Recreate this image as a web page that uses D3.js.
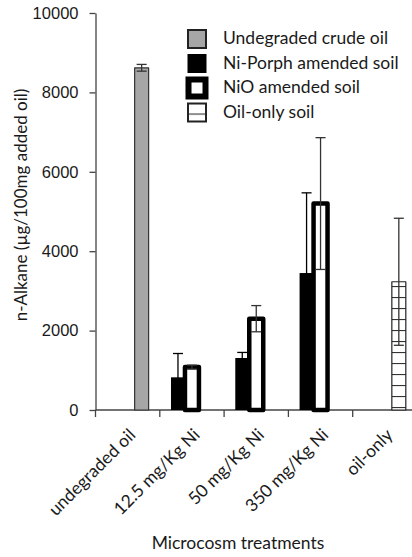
<!DOCTYPE html>
<html>
<head>
<meta charset="utf-8">
<script src="https://cdnjs.cloudflare.com/ajax/libs/d3/7.8.5/d3.min.js"></script>
<style>
  body { margin: 0; background: #fff; }
  svg { display: block; }
</style>
</head>
<body>
<div id="chart"></div>
<script>
// values
var categories = ["undegraded oil", "12.5 mg/Kg Ni", "50 mg/Kg Ni", "350 mg/Kg Ni", "oil-only"];
var crudeOil = [8620, null, null, null, null];
var crudeOilErr = [85, null, null, null, null];
var niPorph = [null, 823, 1310, 3450, null];
var niPorphErr = [null, 600, 140, 2020, null];
var nio = [null, 1080, 2300, 5200, null];
var nioErr = [null, 50, 330, 1660, null];
var oilOnly = [null, null, null, null, 3230];
var oilOnlyErr = [null, null, null, null, 1600];
var yTicks = [0, 2000, 4000, 6000, 8000, 10000];
var legendLabels = ["Undegraded crude oil", "Ni-Porph amended soil", "NiO amended soil", "Oil-only soil"];

var width = 412, height = 557;
var margin = { top: 13, left: 95.5, bottom: 147, right: -5 };
var textFont = "Lato, 'Open Sans', sans-serif";
var numFont = "'Liberation Sans', Arial, sans-serif";

var svg = d3.select("#chart").append("svg")
    .attr("width", width)
    .attr("height", height);

var defs = svg.append("defs");
var hatch = defs.append("pattern")
    .attr("id", "hlines")
    .attr("patternUnits", "userSpaceOnUse")
    .attr("width", 20)
    .attr("height", 11);
hatch.append("rect").attr("width", 20).attr("height", 11).attr("fill", "#fff");
hatch.append("line")
    .attr("x1", 0).attr("x2", 20).attr("y1", 0.5).attr("y2", 0.5)
    .attr("stroke", "#333").attr("stroke-width", 1.2);

var x0 = d3.scaleBand()
    .domain(categories)
    .range([margin.left, width - margin.right]);

// three slots per group: Ni-Porph, NiO, then crude / oil-only
var x1 = d3.scaleBand()
    .domain(["porph", "nio", "other"])
    .range([0, x0.bandwidth()])
    .paddingOuter(0.8);

var y = d3.scaleLinear()
    .domain([0, 10000])
    .range([height - margin.bottom, margin.top]);

var series = [
    { key: "other", values: crudeOil, errs: crudeOilErr, fill: "#a6a6a6", stroke: "#333", sw: 1.2 },
    { key: "porph", values: niPorph, errs: niPorphErr, fill: "#000", stroke: "none", sw: 0 },
    { key: "nio", values: nio, errs: nioErr, fill: "#fff", stroke: "#000", sw: 4.5 },
    { key: "other", values: oilOnly, errs: oilOnlyErr, fill: "url(#hlines)", stroke: "#222", sw: 1.2 }
];

// axes
var yAxis = svg.append("g")
    .attr("transform", "translate(" + margin.left + ",0)")
    .call(d3.axisLeft(y).tickValues(yTicks).tickFormat(d3.format("d"))
        .tickSize(6).tickPadding(11).tickSizeOuter(0));
yAxis.select(".domain").attr("stroke", "#444").attr("stroke-width", 1.3);
yAxis.selectAll(".tick line").attr("stroke", "#444").attr("stroke-width", 1.3);
yAxis.selectAll(".tick text")
    .attr("font-family", numFont)
    .attr("font-size", 16.5)
    .attr("fill", "#1a1a1a");

var xAxis = svg.append("g")
    .attr("transform", "translate(0," + y(0) + ")");
xAxis.append("line")
    .attr("x1", margin.left).attr("x2", width)
    .attr("stroke", "#444").attr("stroke-width", 1.3);
xAxis.selectAll(".xtick")
    .data(categories)
    .enter().append("line")
    .attr("x1", function (d) { return x0(d); })
    .attr("x2", function (d) { return x0(d); })
    .attr("y1", 0).attr("y2", 7)
    .attr("stroke", "#444").attr("stroke-width", 1.3);

xAxis.selectAll(".xlabel")
    .data(categories)
    .enter().append("text")
    .attr("text-anchor", "end")
    .attr("font-family", textFont)
    .attr("font-size", 17.5)
    .attr("fill", "#1a1a1a")
    .attr("transform", function (d) {
        return "translate(" + (x0(d) + x0.bandwidth() / 2 + 9) + ",26) rotate(-45)";
    })
    .text(function (d) { return d; });

// bars
series.forEach(function (s) {
    var g = svg.append("g");
    var rows = categories.map(function (c, i) {
        return { cat: c, v: s.values[i], e: s.errs[i] };
    }).filter(function (d) { return d.v != null; });

    g.selectAll("rect")
        .data(rows)
        .enter().append("rect")
        .attr("x", function (d) { return x0(d.cat) + x1(s.key); })
        .attr("width", x1.bandwidth())
        .attr("y", function (d) { return y(d.v); })
        .attr("height", function (d) { return y(0) - y(d.v); })
        .attr("fill", s.fill)
        .attr("stroke", s.stroke)
        .attr("stroke-width", s.sw)
        .attr("stroke-linejoin", "round");

    s.rows = rows;
});

// error bars on top of everything
series.forEach(function (s) {
    var eg = svg.append("g")
        .attr("stroke", s.key === "porph" ? "#000" : "#333")
        .attr("stroke-width", 1.3);
    s.rows.forEach(function (d) {
        var cx = x0(d.cat) + x1(s.key) + x1.bandwidth() / 2;
        eg.append("line")
            .attr("x1", cx).attr("x2", cx)
            .attr("y1", y(d.v + d.e)).attr("y2", y(Math.max(0, d.v - d.e)));
        [d.v + d.e, d.v - d.e].forEach(function (v) {
            eg.append("line")
                .attr("x1", cx - 5).attr("x2", cx + 5)
                .attr("y1", y(v)).attr("y2", y(v));
        });
    });
});

// legend
var swatchFill = ["#a6a6a6", "#000", "#fff", "url(#hlines)"];
var swatchStroke = ["#222", "#000", "#000", "#222"];
var swatchWidth = [2, 1, 6, 2];
var legend = svg.append("g").attr("transform", "translate(187,29)");
var rowH = 24.5;
var items = legend.selectAll(".item")
    .data(legendLabels)
    .enter().append("g")
    .attr("transform", function (d, i) { return "translate(0," + (i * rowH) + ")"; });

items.append("rect")
    .attr("x", function (d, i) { return i === 2 ? 1.5 : 1; })
    .attr("y", function (d, i) { return i === 2 ? 1.5 : 1; })
    .attr("width", function (d, i) { return i === 2 ? 17 : 18; })
    .attr("height", function (d, i) { return i === 2 ? 17 : 18; })
    .attr("fill", function (d, i) { return swatchFill[i]; })
    .attr("stroke", function (d, i) { return swatchStroke[i]; })
    .attr("stroke-width", function (d, i) { return swatchWidth[i]; });

items.append("text")
    .attr("x", 36)
    .attr("y", 15)
    .attr("font-family", textFont)
    .attr("font-size", 17.5)
    .attr("fill", "#1a1a1a")
    .text(function (d) { return d; });

// axis titles
svg.append("text")
    .attr("text-anchor", "middle")
    .attr("font-family", textFont)
    .attr("font-size", 17)
    .attr("fill", "#1a1a1a")
    .attr("transform", "translate(27,205) rotate(-90)")
    .text("n-Alkane (µg/100mg added oil)");

svg.append("text")
    .attr("text-anchor", "middle")
    .attr("x", 238)
    .attr("y", 549)
    .attr("font-family", textFont)
    .attr("font-size", 17.5)
    .attr("fill", "#1a1a1a")
    .text("Microcosm treatments");
</script>
</body>
</html>
